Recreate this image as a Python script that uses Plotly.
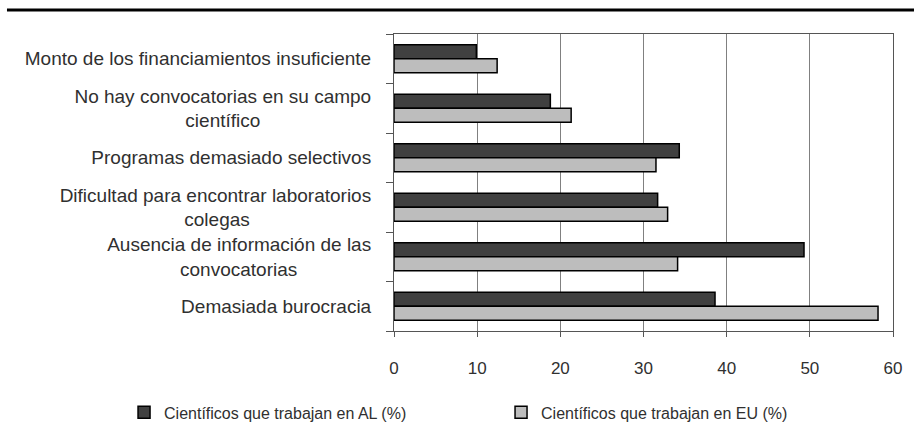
import plotly.graph_objects as go

categories = [
    "Monto de los financiamientos insuficiente",
    "No hay convocatorias en su campo científico",
    "Programas demasiado selectivos",
    "Dificultad para encontrar laboratorios colegas",
    "Ausencia de información de las convocatorias",
    "Demasiada burocracia",
]
NB = "\u00a0"
tick_labels = [
    "Monto de los financiamientos insuficiente",
    "No hay convocatorias en su campo<br>científico" + NB * 21,
    "Programas demasiado selectivos",
    "Dificultad para encontrar laboratorios<br>colegas" + NB * 23,
    "Ausencia de información de las<br>convocatorias" + NB * 14,
    "Demasiada burocracia",
]
al_values = [9.9, 18.8, 34.3, 31.7, 49.3, 38.6]
eu_values = [12.4, 21.3, 31.5, 32.9, 34.1, 58.2]
series_names = ["Científicos que trabajan en AL (%)", "Científicos que trabajan en EU (%)"]
x_ticks = [0, 10, 20, 30, 40, 50, 60]

FONT = "Liberation Sans, Arial, sans-serif"
TXT = "#303030"

fig = go.Figure()
fig.add_trace(go.Bar(
    y=categories, x=al_values, orientation="h", name=series_names[0],
    marker=dict(color="#404040", line=dict(color="#000000", width=1.5)),
))
fig.add_trace(go.Bar(
    y=categories, x=eu_values, orientation="h", name=series_names[1],
    marker=dict(color="#bdbdbd", line=dict(color="#000000", width=1.5)),
))

fig.update_layout(
    width=914, height=434,
    margin=dict(l=394, r=21, t=34, b=103, autoexpand=False),
    paper_bgcolor="white", plot_bgcolor="white",
    barmode="group", bargap=0.43, bargroupgap=0,
    font=dict(family=FONT, color=TXT),
    showlegend=True,
    legend=dict(
        orientation="h", x=-0.541, xanchor="left", y=-0.274, yanchor="middle",
        font=dict(family=FONT, size=16, color=TXT),
        entrywidth=332, entrywidthmode="pixels",
        traceorder="normal", bgcolor="rgba(0,0,0,0)",
    ),
    shapes=[dict(
        type="line", xref="paper", yref="paper",
        x0=-0.7756, x1=1.05, y0=1.081, y1=1.081,
        line=dict(color="#000000", width=3),
    )],
)
fig.update_xaxes(
    range=[0, 60], tickvals=x_ticks, ticktext=[str(v) for v in x_ticks],
    showgrid=True, gridcolor="#808080", gridwidth=1,
    showline=True, linecolor="#555555", linewidth=1, mirror=True,
    ticks="outside", ticklen=5, tickcolor="#555555",
    tickfont=dict(family=FONT, size=17, color=TXT),
    ticklabelstandoff=17, zeroline=False, fixedrange=True,
)
fig.update_yaxes(
    autorange="reversed", tickmode="array", tickvals=categories, ticktext=tick_labels,
    showgrid=False,
    showline=True, linecolor="#555555", linewidth=1, mirror=True,
    ticks="outside", ticklen=7, tickcolor="#555555", tickson="boundaries",
    tickfont=dict(family=FONT, size=19, color=TXT),
    ticklabelstandoff=18, fixedrange=True,
)

fig.write_html("out.html", config={"displayModeBar": False},
               post_script="document.body.style.margin='0';")
